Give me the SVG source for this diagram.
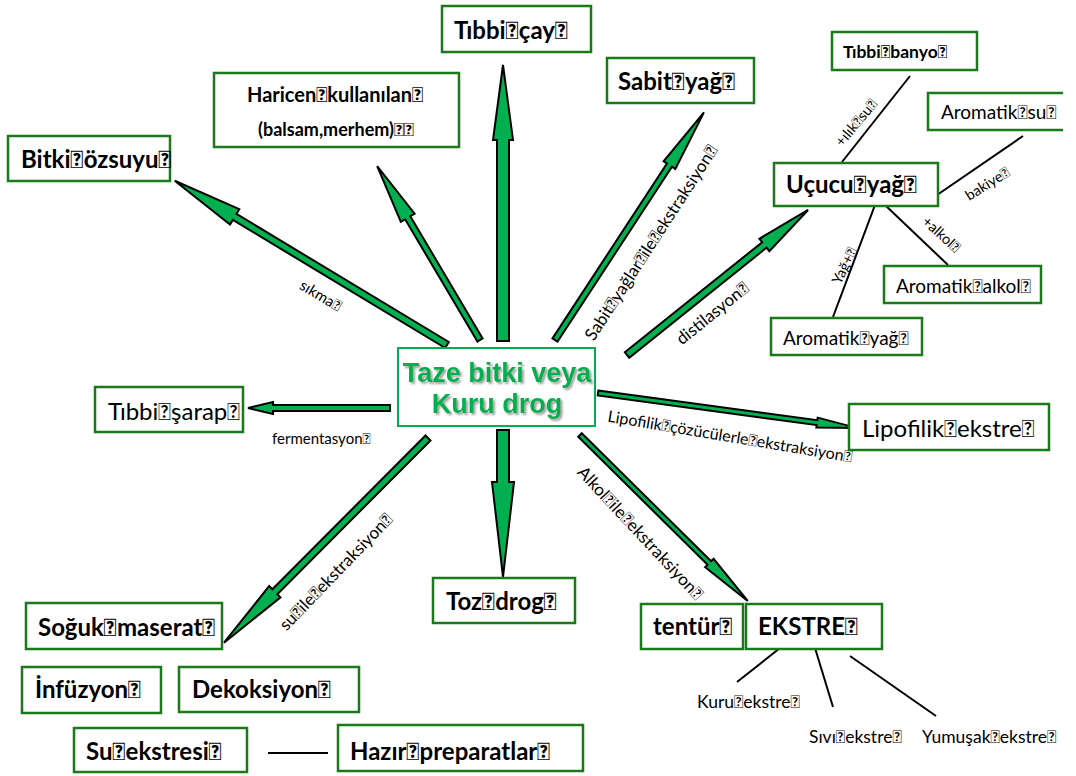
<svg xmlns="http://www.w3.org/2000/svg" width="1076" height="776" viewBox="0 0 1076 776">
<defs>
<filter id="sh" x="-10%" y="-10%" width="130%" height="140%"><feDropShadow dx="2" dy="2" stdDeviation="1" flood-color="#888" flood-opacity="0.8"/></filter>
</defs>
<style>
.box{fill:#fff;stroke:#1a7a1a;stroke-width:2.5}
.t{font-family:Lato,"Liberation Sans",sans-serif;fill:#000}
.b{font-weight:bold}
.lbl{font-family:Lato,"Liberation Sans",sans-serif;fill:#000;font-size:15px}
.arr{fill:#00b050;stroke:#000;stroke-width:2;stroke-linejoin:miter}
.ln{stroke:#000;stroke-width:2;fill:none}
.ctr{font-family:"Liberation Sans",Arial,sans-serif;font-weight:bold;font-size:27px;fill:#00b050}
</style>
<rect width="1076" height="776" fill="#fff"/>
<g id="connectors">
<polygon class="arr" transform="translate(503,341) rotate(-90)" points="0,-6 201,-6 201,-10 276,0 201,10 201,6 0,6"/>
<polygon class="arr" transform="translate(503,430) rotate(90)" points="0,-6 52,-6 52,-11 147,0 52,11 52,6 0,6"/>
<polygon class="arr" transform="translate(447,345) rotate(211.1)" points="0,-3.5 248,-3.5 248,-9 318,0 248,9 248,3.5 0,3.5"/>
<polygon class="arr" transform="translate(480,340) rotate(-120.6)" points="0,-3 142,-3 142,-8 202,0 142,8 142,3 0,3"/>
<polygon class="arr" transform="translate(555,340) rotate(-56.8)" points="0,-3 209,-3 209,-7 272,0 209,7 209,3 0,3"/>
<polygon class="arr" transform="translate(627,355) rotate(-38.7)" points="0,-3.5 176,-3.5 176,-8 232,0 176,8 176,3.5 0,3.5"/>
<polygon class="arr" transform="translate(390,408) rotate(180)" points="0,-3 117,-3 117,-6 142,0 117,6 117,3 0,3"/>
<polygon class="arr" transform="translate(598,393) rotate(7.7)" points="0,-2.5 221,-2.5 221,-5 262,0 221,5 221,2.5 0,2.5"/>
<polygon class="arr" transform="translate(428,438) rotate(134.9)" points="0,-3.5 217,-3.5 217,-8 289,0 217,8 217,3.5 0,3.5"/>
<polygon class="arr" transform="translate(580,435) rotate(44.7)" points="0,-2.5 182,-2.5 182,-6 236,0 182,6 182,2.5 0,2.5"/>
<line class="ln" x1="842" y1="162" x2="910" y2="76"/>
<line class="ln" x1="937" y1="195" x2="1023" y2="136"/>
<line class="ln" x1="875" y1="205" x2="833" y2="317"/>
<line class="ln" x1="885" y1="205" x2="948" y2="265"/>
<line class="ln" x1="780" y1="648" x2="737" y2="682"/>
<line class="ln" x1="815" y1="648" x2="833" y2="707"/>
<line class="ln" x1="850" y1="656" x2="936" y2="716"/>
<line class="ln" x1="268" y1="753" x2="328" y2="753"/>
<text class="lbl" transform="translate(318,300) rotate(31)" text-anchor="middle">sıkma&#xF020;</text>
<text class="lbl" style="font-size:17px" transform="translate(656,246) rotate(-57)" text-anchor="middle">Sabit&#xF020;yağlar&#xF020;ile&#xF020;ekstraksiyon&#xF020;</text>
<text class="lbl" style="font-size:17px" transform="translate(716,318) rotate(-39)" text-anchor="middle">distilasyon&#xF020;</text>
<text class="lbl" x="272" y="444">fermentasyon&#xF020;</text>
<text class="lbl" style="font-size:16px" transform="translate(729,442) rotate(9.5)" text-anchor="middle">Lipofilik&#xF020;çözücülerle&#xF020;ekstraksiyon&#xF020;</text>
<text class="lbl" style="font-size:17px" transform="translate(340,576) rotate(-46)" text-anchor="middle">su&#xF020;ile&#xF020;ekstraksiyon&#xF020;</text>
<text class="lbl" style="font-size:17px" transform="translate(636,537) rotate(47)" text-anchor="middle">Alkol&#xF020;ile&#xF020;ekstraksiyon&#xF020;</text>
<text class="lbl" style="font-size:14.5px" transform="translate(860,126) rotate(-50)" text-anchor="middle">+ılık&#xF020;su&#xF020;</text>
<text class="lbl" style="font-size:14.5px" transform="translate(990,188) rotate(-32)" text-anchor="middle">bakiye&#xF020;</text>
<text class="lbl" style="font-size:14.5px" transform="translate(849,268) rotate(-64)" text-anchor="middle">Yağ+&#xF020;</text>
<text class="lbl" style="font-size:14.5px" transform="translate(938,238) rotate(42)" text-anchor="middle">+alkol&#xF020;</text>
<text class="lbl" style="font-size:17.5px" x="697" y="708">Kuru&#xF020;ekstre&#xF020;</text>
<text class="lbl" style="font-size:17.5px" x="809" y="743">Sıvı&#xF020;ekstre&#xF020;</text>
<text class="lbl" style="font-size:17.5px" x="922" y="743">Yumuşak&#xF020;ekstre&#xF020;</text>
</g>
<g id="center">
<rect x="398" y="348" width="197" height="78" fill="#fff" stroke="#00b050" stroke-width="2"/>
<g filter="url(#sh)">
<text class="ctr" x="497" y="382" text-anchor="middle">Taze bitki veya</text>
<text class="ctr" x="497" y="413" text-anchor="middle">Kuru drog</text>
</g>
</g>
<g id="tibbi-cay"><rect class="box" x="442" y="6" width="149" height="46"/><text class="t b" x="454" y="39" font-size="24">Tıbbi&#xF020;çay&#xF020;</text></g>
<g id="haricen"><rect class="box" x="214" y="73" width="245" height="74"/><text class="t b" x="247" y="102" font-size="20">Haricen&#xF020;kullanılan&#xF020;</text><text class="t b" x="258" y="136" font-size="18">(balsam,merhem)&#xF020;&#xF020;</text></g>
<g id="bitki-ozsuyu"><rect class="box" x="8" y="136" width="162" height="45"/><text class="t b" x="21" y="168" font-size="24">Bitki&#xF020;özsuyu&#xF020;</text></g>
<g id="sabit-yag"><rect class="box" x="607" y="58" width="147" height="45"/><text class="t b" x="618" y="90" font-size="24">Sabit&#xF020;yağ&#xF020;</text></g>
<g id="tibbi-banyo"><rect class="box" x="832" y="32" width="145" height="38"/><text class="t b" x="843" y="58" font-size="17.5">Tıbbi&#xF020;banyo&#xF020;</text></g>
<g id="aromatik-su"><path d="M1063,93 H928 V130 H1063" fill="#fff" stroke="#1a7a1a" stroke-width="2.5"/><text class="t" x="941" y="119" font-size="19">Aromatik&#xF020;su&#xF020;</text></g>
<g id="ucucu-yag"><rect class="box" x="774" y="163" width="164" height="43"/><text class="t b" x="786" y="193" font-size="24">Uçucu&#xF020;yağ&#xF020;</text></g>
<g id="aromatik-alkol"><rect class="box" x="884" y="266" width="157" height="37"/><text class="t" x="896" y="293" font-size="19">Aromatik&#xF020;alkol&#xF020;</text></g>
<g id="aromatik-yag"><rect class="box" x="771" y="318" width="151" height="37"/><text class="t" x="783" y="345" font-size="19">Aromatik&#xF020;yağ&#xF020;</text></g>
<g id="tibbi-sarap"><rect class="box" x="95" y="387" width="148" height="45"/><text class="t" x="108" y="420" font-size="24">Tıbbi&#xF020;şarap&#xF020;</text></g>
<g id="lipofilik-ekstre"><rect class="box" x="849" y="404" width="200" height="46"/><text class="t" x="862" y="437" font-size="24">Lipofilik&#xF020;ekstre&#xF020;</text></g>
<g id="soguk-maserat"><rect class="box" x="26" y="603" width="196" height="46"/><text class="t b" x="38" y="636" font-size="24">Soğuk&#xF020;maserat&#xF020;</text></g>
<g id="infuzyon"><rect class="box" x="22" y="667" width="139" height="46"/><text class="t b" x="35" y="698" font-size="24">İnfüzyon&#xF020;</text></g>
<g id="dekoksiyon"><rect class="box" x="179" y="667" width="180" height="45"/><text class="t b" x="192" y="698" font-size="24">Dekoksiyon&#xF020;</text></g>
<g id="su-ekstresi"><rect class="box" x="74" y="728" width="173" height="44"/><text class="t b" x="86" y="760" font-size="24">Su&#xF020;ekstresi&#xF020;</text></g>
<g id="hazir-preparatlar"><rect class="box" x="338" y="725" width="245" height="46"/><text class="t b" x="350" y="760" font-size="24">Hazır&#xF020;preparatlar&#xF020;</text></g>
<g id="toz-drog"><rect class="box" x="433" y="578" width="142" height="45"/><text class="t b" x="446" y="610" font-size="24">Toz&#xF020;drog&#xF020;</text></g>
<g id="tentur"><rect class="box" x="641" y="604" width="102" height="45"/><text class="t b" x="653" y="635" font-size="24">tentür&#xF020;</text></g>
<g id="ekstre"><rect class="box" x="746" y="604" width="136" height="45"/><text class="t b" x="758" y="635" font-size="24">EKSTRE&#xF020;</text></g>
</svg>
